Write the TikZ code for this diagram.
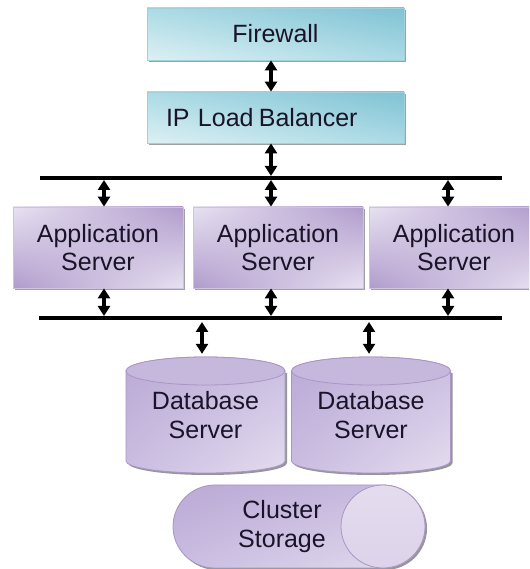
\documentclass[tikz,border=0pt]{standalone}
\usepackage{fontspec}
\setmainfont{Liberation Sans}
\usetikzlibrary{arrows.meta,shadows,shadings,calc}
\definecolor{cyanD}{RGB}{128,194,212}
\definecolor{cyanM}{RGB}{172,219,229}
\definecolor{cyanL}{RGB}{220,240,244}
\definecolor{cyanB}{RGB}{160,208,222}
\definecolor{purpD}{RGB}{176,155,204}
\definecolor{purpL}{RGB}{232,226,241}
\definecolor{purpB}{RGB}{205,194,224}
\definecolor{cylD}{RGB}{186,169,213}
\definecolor{cylM}{RGB}{202,189,225}
\definecolor{cylL}{RGB}{228,220,238}
\definecolor{cylTop}{RGB}{198,184,221}
\definecolor{cylB}{RGB}{168,150,197}
\definecolor{shadowc}{RGB}{150,150,155}
\definecolor{textc}{RGB}{25,20,40}
\begin{document}
\begin{tikzpicture}[x=1pt,y=1pt,
  font=\fontsize{25}{28.5}\selectfont,
  txt/.style={text=textc, align=center},
  cbox/.style={txt, draw=cyanB, line width=0.8pt, shading=bilinear interpolation,
    upper left=cyanM, upper right=cyanD, lower left=cyanL, lower right=cyanM,
    drop shadow={shadow xshift=2pt, shadow yshift=-2pt, fill=shadowc, opacity=0.9},
    minimum width=257pt, inner sep=0pt},
  abox/.style={txt, draw=purpB, line width=0.8pt, shading=bilinear interpolation,
    upper left=purpL, upper right=purpD, lower left=purpD, lower right=purpL,
    drop shadow={shadow xshift=2pt, shadow yshift=-2pt, fill=shadowc, opacity=0.9},
    minimum width=170pt, minimum height=81pt, inner sep=0pt},
  cylbody/.style={draw=cylB, line width=0.8pt, shading=bilinear interpolation,
    upper left=cylD, upper right=cylM, lower left=cylM, lower right=cylL},
  cyltop/.style={draw=cylB, line width=0.8pt, fill=cylTop},
  darrow/.style={{Triangle[width=12pt,length=10pt]}-{Triangle[width=12pt,length=10pt]}, line width=3.4pt, black},
  bus/.style={line width=4pt, black}
]
\useasboundingbox (0,0) rectangle (529,569);
\clip (0,0) rectangle (529,569);

% top boxes
\node[cbox, minimum height=52pt] (fw) at (275.5,535) {Firewall};
\node[cbox, minimum height=51pt, text width=219pt, align=left, inner xsep=19pt] (lb) at (275.5,451.5) {IP Load\hspace{-3pt} Balancer};

% application servers
\node[abox] (as1) at (98,321.5) {Application\\Server};
\node[abox] (as2) at (278,321.5) {Application\\Server};
\node[abox] (as3) at (454,321.5) {Application\\Server};

% bus coordinates
\coordinate (busTL) at (40,391);
\coordinate (busTR) at (502,391);
\coordinate (busBL) at (39,251);
\coordinate (busBR) at (502,251);
\coordinate (tlb) at (271,393);
\coordinate (t1) at (104,389);
\coordinate (t2) at (271,389);
\coordinate (t3) at (448,389);
\coordinate (b1) at (104,253);
\coordinate (b2) at (271,253);
\coordinate (b3) at (448,253);
\coordinate (d1) at (202,247);
\coordinate (d2) at (369,247);

% database cylinders
\foreach \cx/\nm in {205.5/db1, 371/db2} {
  \fill[shadowc] (\cx-77.5,196) -- (\cx-77.5,106) arc[start angle=180,end angle=360,x radius=79.5pt,y radius=12pt] -- (\cx+81.5,196) -- cycle;
  \path[cylbody] (\cx-79.5,198) -- (\cx-79.5,108) arc[start angle=180,end angle=360,x radius=79.5pt,y radius=12pt] -- (\cx+79.5,198) arc[start angle=0,end angle=180,x radius=79.5pt,y radius=14pt] -- cycle;
  \path[cyltop] (\cx,198) ellipse[x radius=79.5pt,y radius=14pt];
  \node[txt, minimum width=159pt, minimum height=116pt] (\nm) at (\cx,154) {Database\\Server};
}

% cluster storage
\fill[shadowc] (217,82) arc[start angle=90,end angle=270,x radius=42pt,y radius=41.5pt] -- (385,-1) arc[start angle=-90,end angle=90,x radius=42pt,y radius=41.5pt] -- cycle;
\path[cylbody] (215,84) arc[start angle=90,end angle=270,x radius=42pt,y radius=41.5pt] -- (383,1) arc[start angle=-90,end angle=90,x radius=42pt,y radius=41.5pt] -- cycle;
\path[cylbody, shading=axis, top color=cylL, bottom color=cylL!70!cylM] (383,42.5) ellipse[x radius=42pt,y radius=41.5pt];
\node[txt] (cs) at (282,42.5) {Cluster\\Storage};

% connectors
\draw[darrow] ([xshift=-4.5pt]fw.south) -- ([xshift=-4.5pt]lb.north);
\draw[darrow] ([xshift=-4.5pt]lb.south) -- (tlb);
\draw[darrow] (t1) -- (t1 |- as1.north);
\draw[darrow] (t2) -- (t2 |- as2.north);
\draw[darrow] (t3) -- (t3 |- as3.north);
\draw[darrow] (b1 |- as1.south) -- (b1);
\draw[darrow] (b2 |- as2.south) -- (b2);
\draw[darrow] (b3 |- as3.south) -- (b3);
\draw[darrow] (d1) -- ([yshift=3pt]d1 |- db1.north);
\draw[darrow] (d2) -- ([yshift=3pt]d2 |- db2.north);

% buses
\draw[bus] (busTL) -- (busTR);
\draw[bus] (busBL) -- (busBR);
\end{tikzpicture}
\end{document}
